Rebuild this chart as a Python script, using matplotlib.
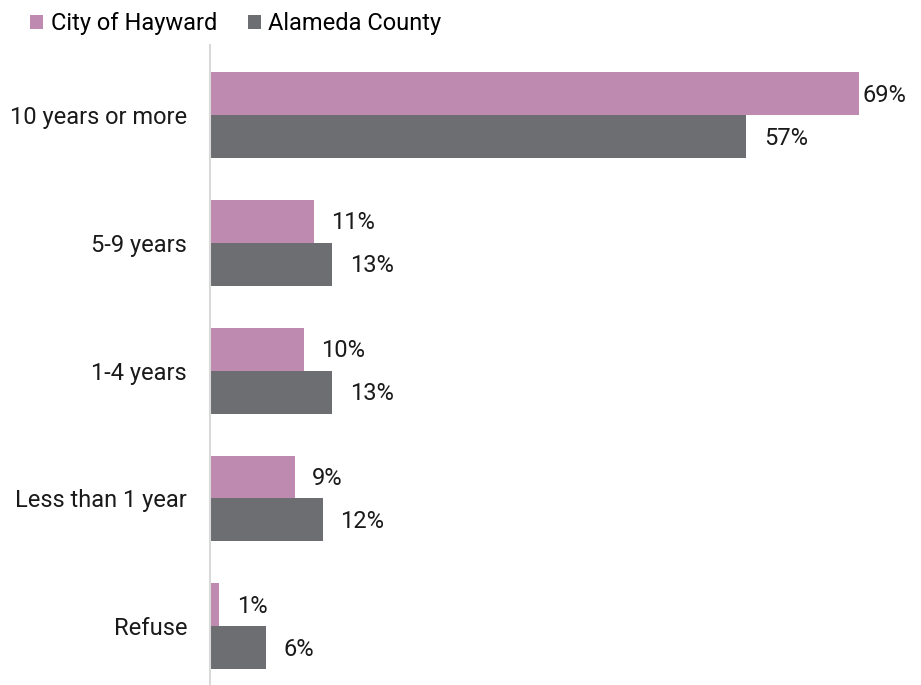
import matplotlib
matplotlib.use("Agg")
import matplotlib.pyplot as plt
import numpy as np
from matplotlib.transforms import offset_copy

plt.rcParams['font.family'] = ['Roboto', 'DejaVu Sans']

categories = ["10 years or more", "5-9 years", "1-4 years", "Less than 1 year", "Refuse"]
hayward = [69, 11, 10, 9, 1]
alameda = [57, 13, 13, 12, 6]
series_names = ["City of Hayward", "Alameda County"]
colors = ["#BF8AAF", "#6D6E71"]

FS = 17

fig = plt.figure(figsize=(9.21, 6.85), dpi=100)
ax = fig.add_axes([210/921, 0, 711/921, 640/685])

y = np.arange(len(categories))
h = 0.335
b1 = ax.barh(y - h/2, hayward, height=h, color=colors[0], label=series_names[0])
b2 = ax.barh(y + h/2, alameda, height=h, color=colors[1], label=series_names[1])

ax.set_xlim(0, 711/9.41)
ax.set_ylim(4.46, -0.55)
ax.set_yticks(y)
ax.set_yticklabels(categories, fontsize=FS, color="#1a1a1a")
ax.tick_params(axis='y', length=0, pad=16.5)
ax.set_xticks([])
for s in ["top", "right", "bottom"]:
    ax.spines[s].set_visible(False)
ax.spines["left"].set_color("#D9D9D9")
ax.spines["left"].set_linewidth(1.5)

vmax = max(hayward + alameda)
for vals, off in ((hayward, -h/2), (alameda, h/2)):
    for i, v in enumerate(vals):
        dx = 2 if v == vmax else 12.5
        tr = offset_copy(ax.transData, fig=fig, x=dx, y=-1, units='points')
        ax.text(v, i + off, f"{v}%", transform=tr, ha='left', va='center',
                fontsize=FS, color="#1a1a1a")

leg = fig.legend(handles=[b1, b2], labels=series_names, loc='upper left',
                 bbox_to_anchor=(21/921, 1 - 3/685), ncol=2, frameon=False,
                 fontsize=FS, handlelength=0.55, handleheight=0.55,
                 handletextpad=0.3, columnspacing=1.3, borderaxespad=0)

fig.savefig("out.png", dpi=100)
